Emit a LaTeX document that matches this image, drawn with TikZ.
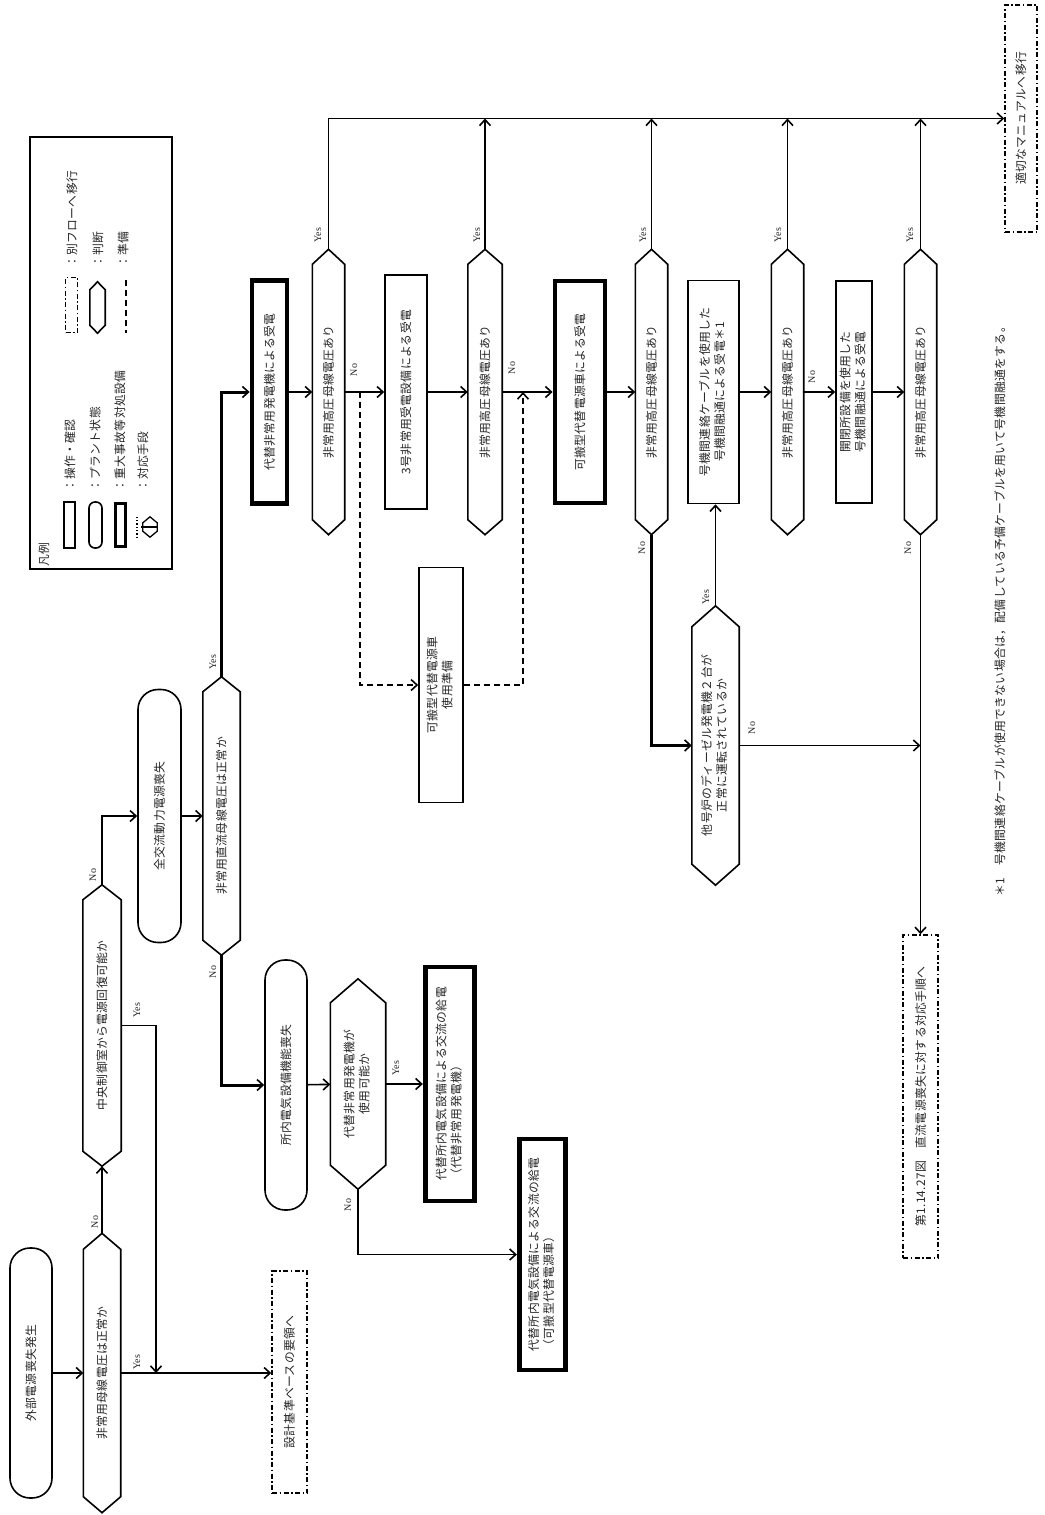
\documentclass[tikz,border=0pt]{standalone}
\usepackage{fontspec}
\usepackage{graphicx}
\setmainfont{Noto Sans CJK JP}[LetterSpace=3]
\newfontfamily\yesfont{Liberation Serif}
\usetikzlibrary{arrows.meta}
\newcommand{\txt}{\fontsize{11.8}{15}\selectfont}
\newcommand{\rt}[1]{\rotatebox{90}{#1}}
\newcommand{\rtt}[2][c]{\rotatebox{90}{\begin{tabular}{@{}#1@{}}#2\end{tabular}}}
\newcommand{\hexnode}[7]{%
  \node[hexbox, minimum width=#4pt, minimum height=#5pt] (#1) at (#2,#3) {#7};
  \draw[hexline] ([yshift=-#6pt]#1.north west) -- (#1.north) -- ([yshift=-#6pt]#1.north east) -- ([yshift=#6pt]#1.south east) -- (#1.south) -- ([yshift=#6pt]#1.south west) -- cycle;
}
\begin{document}
\begin{tikzpicture}[x=1pt,y=-1pt,
  every node/.style={text=black!85, font=\txt},
  ln/.style={line width=1.6pt, draw=black},
  arr/.style={ln, -{Straight Barb[length=6pt,width=11pt,line width=1.6pt]}},
  thk/.style={line width=3pt},
  semithk/.style={line width=2.4pt},
  hexbox/.style={draw=none, rectangle, inner sep=0pt},
  hexline/.style={line width=1.6pt, line join=miter},
  opbox/.style={draw, line width=1.6pt, rectangle, inner sep=0pt},
  sabox/.style={draw, line width=4.8pt, rectangle, inner sep=0pt},
  stad/.style={draw, line width=1.6pt, rectangle, rounded corners=20pt, inner sep=0pt},
  flowbox/.style={draw, line width=1.5pt, rectangle, inner sep=0pt, dash pattern=on 5pt off 2.5pt on 1.5pt off 2.5pt},
  prepline/.style={arr, dash pattern=on 6pt off 4pt},
  lbl/.style={font=\yesfont\fontsize{10}{11}\selectfont, inner sep=0pt}
]
\useasboundingbox (0,0) rectangle (1044,1515);
\fill[white] (0,0) rectangle (1044,1515);

% ---------- legend ----------
\node[draw, line width=1.6pt, minimum width=142pt, minimum height=432pt, inner sep=0pt] (legend) at (101,353) {};
\node (lgtitle) at (44,555) {\rt{凡例}};
\node[opbox, minimum width=11pt, minimum height=46pt] (lg1) at (69.5,525) {};
\node[stad, rounded corners=6pt, minimum width=13pt, minimum height=46pt] (lg2) at (95.5,525) {};
\node[sabox, line width=3pt, minimum width=10pt, minimum height=43pt] (lg3) at (120.5,525) {};
\node[hexbox, minimum width=14pt, minimum height=20pt] (lg4) at (150,527) {};
\draw[line width=1.3pt] ([yshift=-6pt]lg4.north west) -- (lg4.north) -- ([yshift=-6pt]lg4.north east) -- ([yshift=6pt]lg4.south east) -- (lg4.south) -- ([yshift=6pt]lg4.south west) -- cycle;
\draw[line width=1.3pt, dotted] ([xshift=-13pt]lg4.north) -- ([xshift=-13pt]lg4.south);
\draw[line width=1.3pt] ([xshift=-9pt]lg4.center) -- (lg4.east);
\node[anchor=south, inner sep=0pt] (lt1) at (70,492) {\rt{：操作・確認}};
\node[anchor=south, inner sep=0pt] (lt2) at (95,492) {\rt{：プラント状態}};
\node[anchor=south, inner sep=0pt] (lt3) at (120,492) {\rt{：重大事故等対処設備}};
\node[anchor=south, inner sep=0pt] (lt4) at (143,492) {\rt{：対応手段}};
\node[flowbox, minimum width=12pt, minimum height=55pt] (lg5) at (71.5,305) {};
\hexnode{lg6}{97.5}{307.5}{15}{51}{8}{}
\coordinate (lg7a) at (126,280);
\coordinate (lg7b) at (126,333);
\draw[ln, dash pattern=on 6pt off 4pt] (lg7a) -- (lg7b);
\node[anchor=south, inner sep=0pt] (lt5) at (72,268) {\rt{：別フローへ移行}};
\node[anchor=south, inner sep=0pt] (lt6) at (98,268) {\rt{：判断}};
\node[anchor=south, inner sep=0pt] (lt7) at (123,268) {\rt{：準備}};

% ---------- lower-left chain ----------
\node[stad, minimum width=42pt, minimum height=250pt] (start) at (31,1373) {\rt{外部電源喪失発生}};
\hexnode{hA}{102}{1373}{37}{279}{16}{\rt{非常用母線電圧は正常か}}
\node[flowbox, minimum width=35pt, minimum height=222pt] (kijun) at (289.5,1382) {\rt{設計基準ベースの要領へ}};
\hexnode{hB}{102}{1025.5}{38}{281}{15}{\rt{中央制御室から電源回復可能か}}
\node[stad, minimum width=43pt, minimum height=253pt] (acloss) at (159.5,816) {\rt{全交流動力電源喪失}};
\hexnode{hC}{221.5}{816}{37}{278}{15}{\rt{非常用直流母線電圧は正常か}}
\node[stad, minimum width=42pt, minimum height=250pt] (shonai) at (286,1085) {\rt{所内電気設備機能喪失}};
\hexnode{hD}{358}{1084}{55}{210}{24}{\rtt{代替非常用発電機が\\使用可能か}}
\node[sabox, minimum width=49.5pt, minimum height=234pt] (boxE) at (450,1084) {\rtt[l]{代替所内電気設備による交流の給電\\（代替非常用発電機）}};
\node[sabox, minimum width=46.5pt, minimum height=231pt] (boxF) at (542.5,1254.5) {\rtt[l]{代替所内電気設備による交流の給電\\（可搬型代替電源車）}};

% ---------- upper chain ----------
\node[sabox, minimum width=35pt, minimum height=223pt] (daitai) at (269.5,392) {\rt{代替非常用発電機による受電}};
\hexnode{hx1}{328.5}{392}{32}{285}{15}{\rt{非常用高圧母線電圧あり}}
\node[opbox, minimum width=42pt, minimum height=234pt] (box3) at (406,392) {\rt{3号非常用受電設備による受電}};
\hexnode{hx2}{485}{392}{34}{285}{15}{\rt{非常用高圧母線電圧あり}}
\node[sabox, minimum width=50pt, minimum height=222pt] (kahan) at (580,392) {\rt{可搬型代替電源車による受電}};
\hexnode{hx3}{651.5}{392}{32}{285}{15}{\rt{非常用高圧母線電圧あり}}
\node[opbox, minimum width=51pt, minimum height=223pt] (gouki) at (713.5,392) {\rtt{号機間連絡ケーブルを使用した\\号機間融通による受電＊1}};
\hexnode{hx4}{787.5}{392}{32}{285}{15}{\rt{非常用高圧母線電圧あり}}
\node[opbox, minimum width=36pt, minimum height=222pt] (kaihei) at (854,392) {\rtt{開閉所設備を使用した\\号機間融通による受電}};
\hexnode{hx5}{920.5}{392}{32}{285}{15}{\rt{非常用高圧母線電圧あり}}
\node[flowbox, minimum width=32pt, minimum height=227pt] (manual) at (1021,118.5) {\rt{適切なマニュアルへ移行}};
\hexnode{hT}{715.5}{745.5}{47}{279}{21}{\rtt{他号炉のディーゼル発電機２台が\\正常に運転されているか}}
\node[flowbox, minimum width=35pt, minimum height=323pt] (figbox) at (920.5,1096.5) {\rt{第1.14.27図　直流電源喪失に対する対応手順へ}};
\node[opbox, minimum width=44pt, minimum height=235pt] (prep) at (441,685) {\rtt{可搬型代替電源車\\使用準備}};

% footnote
\node[anchor=south, inner sep=0pt] (note) at (1000,897) {\rt{＊1　号機間連絡ケーブルが使用できない場合は，配備している予備ケーブルを用いて号機間融通をする。}};

% ---------- connectors ----------
\coordinate (j1) at (156,1373);
\coordinate (p1) at (360,392);
\coordinate (p2) at (523,392);
\draw[arr] (start) -- (hA);
\draw[arr] (hA.north) -- (hB.south);
\draw[arr] (hA.east) -- (hA.east -| kijun.west);
\draw[arr] (hB.east) -| (j1);
\draw[arr, semithk] (hB.north) |- (acloss.west);
\draw[arr] (acloss) -- (hC);
\draw[arr, thk] (hC.north) |- (daitai.west);
\draw[arr, thk] (hC.south) |- (shonai.west);
\draw[arr] (shonai) -- (hD);
\draw[arr] (hD) -- (boxE);
\draw[arr] (hD.south) |- (boxF.west);

\draw[arr] (daitai) -- (hx1);
\draw[arr] (hx1) -- (box3);
\draw[arr] (box3) -- (hx2);
\draw[arr] (hx2) -- (kahan);
\draw[arr] (kahan) -- (hx3);
\draw[arr] (gouki) -- (hx4);
\draw[arr] (hx4) -- (kaihei);
\draw[arr] (kaihei) -- (hx5);
\draw[arr] (hx1.north) |- (manual.west);
\draw[arr] (hx2.north) -- (hx2.north |- manual.west);
\draw[arr] (hx3.north) -- (hx3.north |- manual.west);
\draw[arr] (hx4.north) -- (hx4.north |- manual.west);
\draw[arr] (hx5.north) -- (hx5.north |- manual.west);
\draw[prepline] (p1) |- (prep.west);
\draw[prepline] (prep.east) -| (p2);
\draw[arr, thk] (hx3.south) |- (hT.west);
\draw[arr] (hT.north) -- (hT.north |- gouki.south);
\draw[arr] (hT.east) -- (hT.east -| hx5.south);
\draw[arr] (hx5.south) -- (figbox.north);

% ---------- labels ----------
\node[lbl] (lA1) at (95,1222) {\rt{No}};
\node[lbl] (lA2) at (137,1362) {\rt{Yes}};
\node[lbl] (lB1) at (137,1010) {\rt{Yes}};
\node[lbl] (lB2) at (93,875) {\rt{No}};
\node[lbl] (lC1) at (213,662) {\rt{Yes}};
\node[lbl] (lC2) at (213,972) {\rt{No}};
\node[lbl] (lD1) at (396,1068) {\rt{Yes}};
\node[lbl] (lD2) at (348,1205) {\rt{No}};
\node[lbl] (l11) at (318,235) {\rt{Yes}};
\node[lbl] (l21) at (477,235) {\rt{Yes}};
\node[lbl] (l31) at (643,235) {\rt{Yes}};
\node[lbl] (l41) at (778,235) {\rt{Yes}};
\node[lbl] (l51) at (910,235) {\rt{Yes}};
\node[lbl] (l12) at (354,370) {\rt{No}};
\node[lbl] (l22) at (512,368) {\rt{No}};
\node[lbl] (l42) at (812,377) {\rt{No}};
\node[lbl] (l32) at (642,548) {\rt{No}};
\node[lbl] (l52) at (908,548) {\rt{No}};
\node[lbl] (lT1) at (706,597) {\rt{Yes}};
\node[lbl] (lT2) at (752,728) {\rt{No}};
\end{tikzpicture}
\end{document}
